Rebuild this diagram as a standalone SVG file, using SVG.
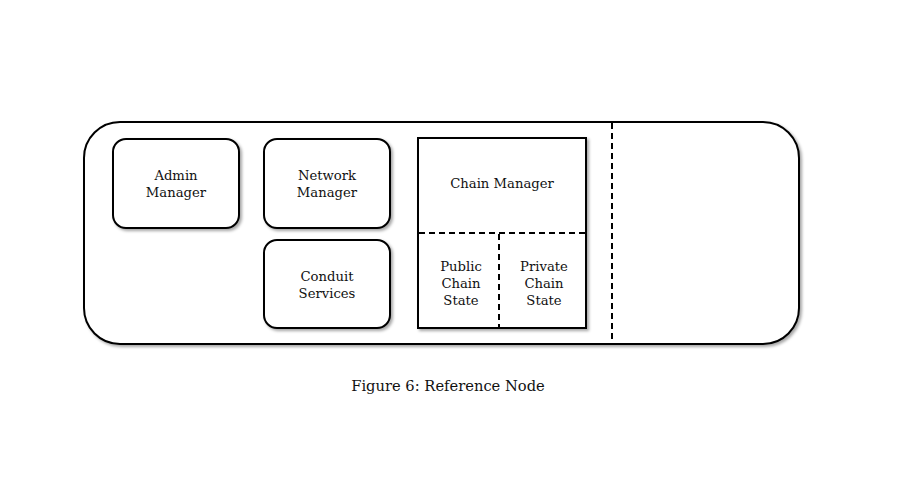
<svg xmlns="http://www.w3.org/2000/svg" width="900" height="500" viewBox="0 0 900 500">
<defs>
<filter id="sh" x="-10%" y="-10%" width="130%" height="130%">
<feGaussianBlur in="SourceAlpha" stdDeviation="1.5"/>
<feOffset dx="2" dy="2" result="b"/>
<feFlood flood-color="#000" flood-opacity="0.35"/>
<feComposite in2="b" operator="in"/>
<feMerge><feMergeNode/><feMergeNode in="SourceGraphic"/></feMerge>
</filter>
<style>
.box{fill:#fff;stroke:#000;stroke-width:2;filter:url(#sh)}
.dash{stroke:#000;stroke-width:2;stroke-dasharray:6,4;fill:none}
text{font-family:"DejaVu Serif","Liberation Serif",serif;font-size:13.2px;fill:#111;text-anchor:middle}
</style>
</defs>
<rect width="900" height="500" fill="#fff"/>
<g id="reference-node">
<rect class="box" x="84" y="122" width="715" height="222" rx="36" ry="36"/>
<line class="dash" x1="612" y1="123" x2="612" y2="343"/>
</g>
<g id="admin-manager">
<rect class="box" x="113" y="139" width="126" height="89" rx="13" ry="13"/>
<text x="176" y="180">Admin</text>
<text x="176" y="197">Manager</text>
</g>
<g id="network-manager">
<rect class="box" x="264" y="139" width="126" height="89" rx="13" ry="13"/>
<text x="327" y="180">Network</text>
<text x="327" y="197">Manager</text>
</g>
<g id="conduit-services">
<rect class="box" x="264" y="240" width="126" height="88" rx="13" ry="13"/>
<text x="327" y="281">Conduit</text>
<text x="327" y="298">Services</text>
</g>
<g id="chain-manager">
<rect class="box" x="418" y="138" width="168" height="190"/>
<text x="502" y="188">Chain Manager</text>
</g>
<g id="connectors">
<line class="dash" x1="419" y1="233" x2="585" y2="233"/>
<line class="dash" x1="499" y1="234" x2="499" y2="328"/>
</g>
<g id="public-chain-state">
<text x="461" y="271">Public</text>
<text x="461" y="288">Chain</text>
<text x="461" y="305">State</text>
</g>
<g id="private-chain-state">
<text x="544" y="271">Private</text>
<text x="544" y="288">Chain</text>
<text x="544" y="305">State</text>
</g>
<text x="448" y="391" style="font-size:14.7px">Figure 6: Reference Node</text>
</svg>
